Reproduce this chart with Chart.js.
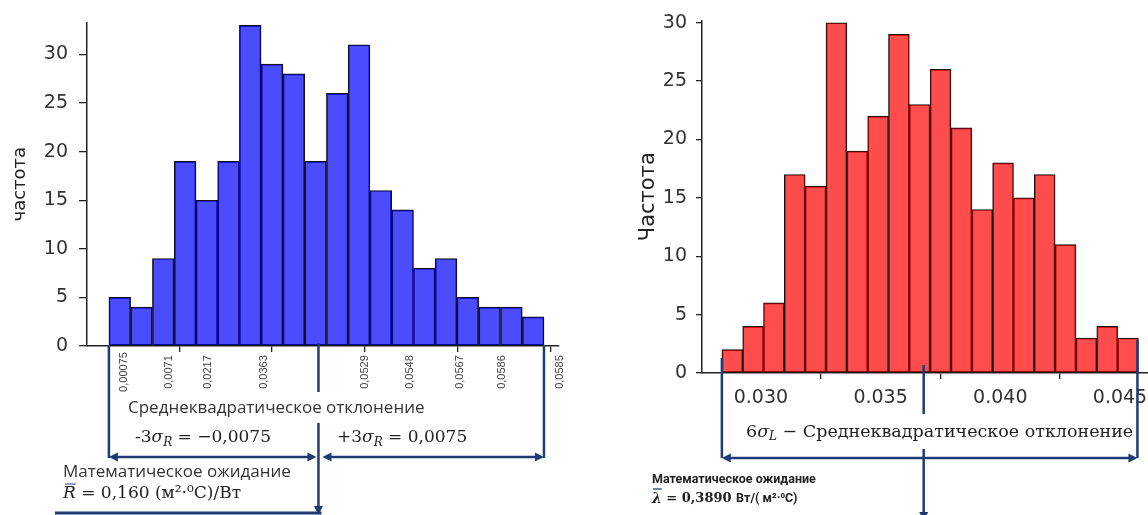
<!DOCTYPE html>
<html>
<head>
<meta charset="utf-8">
<script src="https://cdn.jsdelivr.net/npm/chart.js@4.4.1/dist/chart.umd.min.js"></script>
<style>
  body { margin: 0; background: #fff; width: 1148px; height: 515px; overflow: hidden; position: relative; }
  .box { position: absolute; top: 0; height: 515px; }
  #leftBox { left: 0; width: 575px; }
  #rightBox { left: 600px; width: 548px; }
</style>
</head>
<body>
<div class="box" id="leftBox"><canvas id="leftChart"></canvas></div>
<div class="box" id="rightBox"><canvas id="rightChart"></canvas></div>
<script>
// left histogram (R), counts per bin
const leftCounts = [5, 4, 9, 19, 15, 19, 33, 29, 28, 19, 26, 31, 16, 14, 8, 9, 5, 4, 4, 3];
const leftEdges = [0.14871, 0.14988, 0.15105, 0.15223, 0.15340, 0.15457, 0.15574, 0.15691, 0.15809, 0.15926,
                   0.16043, 0.16160, 0.16277, 0.16395, 0.16512, 0.16629, 0.16746, 0.16863, 0.16981, 0.17098, 0.17215];
const leftTicks = [0.150, 0.155, 0.160, 0.165, 0.170];
const leftMean = 0.160;
// the rotated labels pasted under the left axis
const leftOverlayLabels = ['0,00075', '0,0071', '0,0217', '0,0363', '0,0529', '0,0548', '0,0567', '0,0586', '0,0585'];
const leftOverlayAt = [0.14952, 0.15194, 0.15403, 0.15704, 0.16253, 0.16495, 0.16763, 0.16989, 0.17301];

// right histogram (lambda)
const rightCounts = [2, 4, 6, 17, 16, 30, 19, 22, 29, 23, 26, 21, 14, 18, 15, 17, 11, 3, 4, 3];
const rightEdges = [0.02837, 0.02924, 0.03011, 0.03098, 0.03185, 0.03272, 0.03359, 0.03446, 0.03533, 0.03620,
                    0.03707, 0.03794, 0.03881, 0.03968, 0.04055, 0.04142, 0.04229, 0.04316, 0.04403, 0.04490, 0.04577];
const rightTicks = [0.030, 0.035, 0.040, 0.045];
const rightMean = 0.0368;

const yTicks = [0, 5, 10, 15, 20, 25, 30];

const navy = '#1f3b76';
const axisColor = '#222';
Chart.defaults.font.family = "'DejaVu Sans'";
Chart.defaults.color = '#333';

function histPoints(edges, counts) {
  return counts.map((c, i) => ({ x: (edges[i] + edges[i + 1]) / 2, y: c }));
}

function seg(ctx, x1, y1, x2, y2, w) {
  ctx.lineWidth = w || 2.5;
  ctx.beginPath();
  ctx.moveTo(x1, y1);
  ctx.lineTo(x2, y2);
  ctx.stroke();
}

// arrow head with tip at (x, y) pointing along (dx, dy)
function head(ctx, x, y, dx, dy) {
  const L = 9, W = 4.5;
  ctx.beginPath();
  ctx.moveTo(x, y);
  ctx.lineTo(x - dx * L - dy * W, y - dy * L + dx * W);
  ctx.lineTo(x - dx * L + dy * W, y - dy * L - dx * W);
  ctx.closePath();
  ctx.fill();
}

function dblArrow(ctx, x1, x2, y) {
  seg(ctx, x1 + 3, y, x2 - 3, y, 2.5);
  head(ctx, x1, y, -1, 0);
  head(ctx, x2, y, 1, 0);
}

// draw a run of text pieces [text, font, dy]
function parts(ctx, x, y, list) {
  ctx.textBaseline = 'middle';
  ctx.textAlign = 'left';
  for (const p of list) {
    ctx.font = p[1];
    ctx.fillText(p[0], x, y + (p[2] || 0));
    x += ctx.measureText(p[0]).width;
  }
  return x;
}

function yScale(max, title, titlePad, width, pad, tickLen, size) {
  return {
    min: 0,
    max: max,
    afterBuildTicks: s => { s.ticks = yTicks.map(v => ({ value: v })); },
    afterFit: s => { s.width = width; },
    ticks: { font: { size: size }, padding: pad, color: '#333' },
    grid: { drawOnChartArea: false, color: axisColor, tickLength: tickLen, lineWidth: 1.3 },
    border: { color: axisColor, width: 1.5 },
    title: { display: true, text: title, color: '#222', font: { size: titlePad.size }, padding: { top: titlePad.top, bottom: 0 } }
  };
}

function barSet(edges, counts, fill) {
  return {
    data: histPoints(edges, counts),
    backgroundColor: fill,
    borderColor: '#111',
    borderWidth: 1,
    borderSkipped: false,
    barPercentage: 1,
    categoryPercentage: 1,
    grouped: false
  };
}

const leftNotes = {
  id: 'leftNotes',
  afterDraw(chart) {
    const ctx = chart.ctx;
    const xs = chart.scales.x;
    const base = chart.chartArea.bottom;
    const xL = xs.getPixelForValue(leftEdges[0]);
    const xR = xs.getPixelForValue(leftEdges[leftEdges.length - 1]);
    const xM = xs.getPixelForValue(leftMean);
    ctx.save();
    // rotated labels
    ctx.fillStyle = '#444';
    ctx.font = "11px 'Liberation Sans'";
    ctx.textAlign = 'center';
    ctx.textBaseline = 'middle';
    leftOverlayLabels.forEach((t, i) => {
      ctx.save();
      ctx.translate(xs.getPixelForValue(leftOverlayAt[i]), 372);
      ctx.rotate(-Math.PI / 2);
      ctx.fillText(t, 0, 0);
      ctx.restore();
    });
    ctx.strokeStyle = navy;
    ctx.fillStyle = navy;
    seg(ctx, xL, base - 1, xL, 458);
    seg(ctx, xR, base - 1, xR, 458);
    seg(ctx, xM, base - 3, xM, 392);
    seg(ctx, xM, 423, xM, 508);
    head(ctx, xM, 515, 0, 1);
    dblArrow(ctx, xL, xM - 2, 457);
    dblArrow(ctx, xM + 4, xR, 457);
    seg(ctx, 55, 513, xM + 3, 513, 3);
    // texts
    ctx.fillStyle = '#333';
    parts(ctx, 128, 408, [['Среднеквадратическое отклонение', "17px 'Open Sans'"]]);
    ctx.fillStyle = '#222';
    const m = "17px 'DejaVu Serif'", mi = "italic 17px 'DejaVu Serif'", ms = "italic 12px 'DejaVu Serif'";
    parts(ctx, 135, 438, [['-3', m], ['σ', mi], ['R', ms, 5], [' = −0,0075', m]]);
    parts(ctx, 337, 438, [['+3', m], ['σ', mi], ['R', ms, 5], [' = 0,0075', m]]);
    ctx.fillStyle = '#333';
    parts(ctx, 63, 472, [['Математическое ожидание', "17px 'Open Sans'"]]);
    ctx.fillStyle = '#222';
    const rEnd = parts(ctx, 63, 494, [['R', "italic 17px 'DejaVu Serif'"]]);
    seg(ctx, 65, 484, rEnd, 484, 1);
    parts(ctx, rEnd, 494, [[' = 0,160 (м²·⁰С)/Вт', "17px 'DejaVu Serif'"]]);
    ctx.restore();
  }
};

const rightNotes = {
  id: 'rightNotes',
  afterDraw(chart) {
    const ctx = chart.ctx;
    const xs = chart.scales.x;
    const base = chart.chartArea.bottom;
    const xL = xs.getPixelForValue(rightEdges[0]);
    const xR = xs.getPixelForValue(rightEdges[rightEdges.length - 1]) - 1;
    const xM = xs.getPixelForValue(rightMean);
    ctx.save();
    ctx.strokeStyle = navy;
    ctx.fillStyle = navy;
    seg(ctx, xL, base - 15, xL, 458);
    seg(ctx, xR, base - 33, xR, 458);
    seg(ctx, xM, base - 8, xM, 414);
    seg(ctx, xM, 449, xM, 512);
    head(ctx, xM, 521, 0, 1);
    dblArrow(ctx, xL, xR, 458);
    ctx.fillStyle = '#222';
    const m = "17.5px 'DejaVu Serif'";
    parts(ctx, 146, 432, [['6', m], ['σ', "italic 17.5px 'DejaVu Serif'"], ['L', "italic 12px 'DejaVu Serif'", 5],
                          [' − Среднеквадратическое отклонение', m]]);
    const b = "bold 12.5px Roboto";
    parts(ctx, 52, 480, [['Математическое ожидание', b]]);
    const lEnd = parts(ctx, 52, 499, [['λ', "bold italic 14px 'DejaVu Serif'"]]);
    seg(ctx, 53, 489, lEnd, 489, 1.3);
    parts(ctx, lEnd, 499, [[' = 0,3890 ', "bold 13px 'DejaVu Serif'"], ['Вт/( м²·⁰С)', b]]);
    ctx.restore();
  }
};

new Chart(document.getElementById('leftChart'), {
  type: 'bar',
  data: { datasets: [barSet(leftEdges, leftCounts, 'rgba(0, 0, 255, 0.7)')] },
  options: {
    responsive: true,
    maintainAspectRatio: false,
    animation: false,
    layout: { padding: { top: 22, right: 16, left: 0, bottom: 0 } },
    plugins: { legend: { display: false }, tooltip: { enabled: false } },
    scales: {
      x: {
        type: 'linear',
        offset: false,
        min: 0.14753,
        max: 0.17296,
        afterBuildTicks: s => { s.ticks = leftTicks.map(v => ({ value: v })); },
        afterFit: s => { s.height = 169; s.paddingLeft = 0; s.paddingRight = 0; },
        ticks: { display: false },
        grid: { drawOnChartArea: false, color: axisColor, tickLength: 6, lineWidth: 1.3 },
        border: { color: axisColor, width: 1.5 }
      },
      y: yScale(33.3, 'частота', { size: 18, top: 10 }, 87, 11, 8, 19)
    }
  },
  plugins: [leftNotes]
});

new Chart(document.getElementById('rightChart'), {
  type: 'bar',
  data: { datasets: [barSet(rightEdges, rightCounts, 'rgba(255, 0, 0, 0.7)')] },
  options: {
    responsive: true,
    maintainAspectRatio: false,
    animation: false,
    layout: { padding: { top: 13, right: 0, left: 0, bottom: 0 } },
    plugins: { legend: { display: false }, tooltip: { enabled: false } },
    scales: {
      x: {
        type: 'linear',
        offset: false,
        min: 0.02754,
        max: 0.04617,
        afterBuildTicks: s => { s.ticks = rightTicks.map(v => ({ value: v })); },
        afterFit: s => { s.height = 142; s.paddingLeft = 0; s.paddingRight = 0; },
        ticks: { font: { size: 19 }, padding: 8, color: '#333', maxRotation: 0, callback: v => v.toFixed(3) },
        grid: { drawOnChartArea: false, color: axisColor, tickLength: 6, lineWidth: 1.3 },
        border: { color: axisColor, width: 1.5 }
      },
      y: yScale(30.2, 'Частота', { size: 21, top: 36 }, 102, 9, 6, 19)
    }
  },
  plugins: [rightNotes]
});
</script>
</body>
</html>
